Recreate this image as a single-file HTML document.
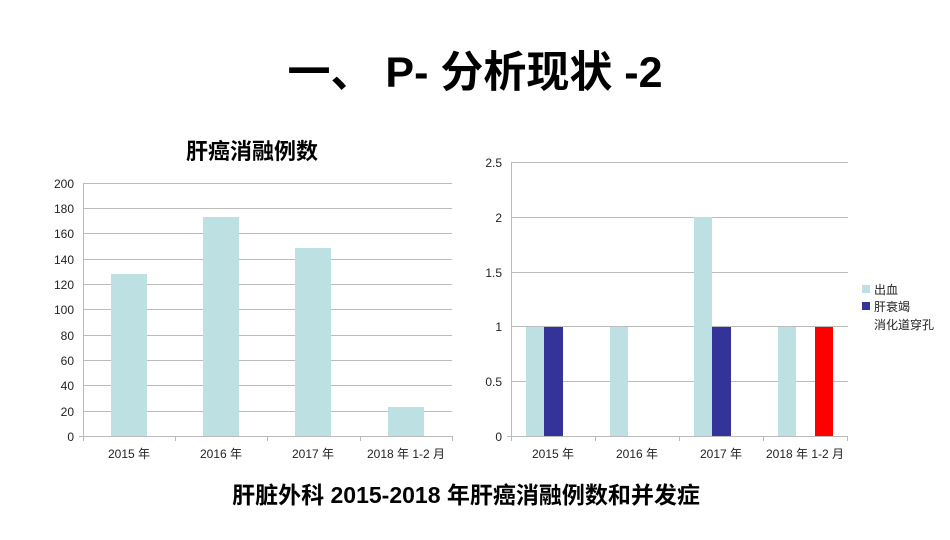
<!DOCTYPE html>
<html><head><meta charset="utf-8"><style>
body{margin:0;width:950px;height:535px;background:#fff;overflow:hidden;font-family:"Liberation Sans","Noto Sans CJK SC",sans-serif}
</style></head><body>
<svg width="950" height="535" xmlns="http://www.w3.org/2000/svg" font-family="Liberation Sans, Noto Sans CJK SC, sans-serif">
<text x="475" y="87" text-anchor="middle" font-size="43" font-weight="bold" fill="#000">一、 P- 分析现状 -2</text>
<text x="252" y="159" text-anchor="middle" font-size="22" font-weight="bold">肝癌消融例数</text>
<g stroke="#bbb" stroke-width="1">
<line x1="83" y1="183.5" x2="452" y2="183.5"/><line x1="83" y1="208.5" x2="452" y2="208.5"/><line x1="83" y1="233.5" x2="452" y2="233.5"/><line x1="83" y1="259.5" x2="452" y2="259.5"/><line x1="83" y1="284.5" x2="452" y2="284.5"/><line x1="83" y1="309.5" x2="452" y2="309.5"/><line x1="83" y1="335.5" x2="452" y2="335.5"/><line x1="83" y1="360.5" x2="452" y2="360.5"/><line x1="83" y1="385.5" x2="452" y2="385.5"/><line x1="83" y1="411.5" x2="452" y2="411.5"/>
<line x1="83.5" y1="183" x2="83.5" y2="441"/><line x1="79" y1="436.5" x2="452" y2="436.5"/>
<line x1="175.5" y1="436" x2="175.5" y2="441"/><line x1="267.5" y1="436" x2="267.5" y2="441"/><line x1="360.5" y1="436" x2="360.5" y2="441"/><line x1="452.5" y1="436" x2="452.5" y2="441"/>
</g>
<g fill="#bde0e2">
<rect x="111" y="274" width="36" height="162"/><rect x="203" y="217" width="36" height="219"/><rect x="295" y="248" width="36" height="188"/><rect x="388" y="407" width="36" height="29"/>
</g>
<g font-size="12" text-anchor="end" fill="#222">
<text x="74" y="188">200</text><text x="74" y="213">180</text><text x="74" y="238">160</text><text x="74" y="264">140</text><text x="74" y="289">120</text><text x="74" y="314">100</text><text x="74" y="340">80</text><text x="74" y="365">60</text><text x="74" y="390">40</text><text x="74" y="416">20</text><text x="74" y="441">0</text>
</g>
<g font-size="12" text-anchor="middle" fill="#222">
<text x="129" y="458">2015 年</text><text x="221" y="458">2016 年</text><text x="313" y="458">2017 年</text><text x="406" y="458">2018 年 1-2 月</text>
</g>
<g stroke="#bbb" stroke-width="1">
<line x1="511" y1="162.5" x2="848" y2="162.5"/><line x1="511" y1="217.5" x2="848" y2="217.5"/><line x1="511" y1="272.5" x2="848" y2="272.5"/><line x1="511" y1="326.5" x2="848" y2="326.5"/><line x1="511" y1="381.5" x2="848" y2="381.5"/>
<line x1="511.5" y1="162" x2="511.5" y2="441"/><line x1="507" y1="436.5" x2="848" y2="436.5"/>
<line x1="595.5" y1="436" x2="595.5" y2="441"/><line x1="679.5" y1="436" x2="679.5" y2="441"/><line x1="763.5" y1="436" x2="763.5" y2="441"/><line x1="847.5" y1="436" x2="847.5" y2="441"/>
</g>
<rect x="526" y="327" width="18" height="109" fill="#bde0e2"/><rect x="544" y="327" width="19" height="109" fill="#333399"/>
<rect x="610" y="327" width="18" height="109" fill="#bde0e2"/>
<rect x="694" y="217" width="18" height="219" fill="#bde0e2"/><rect x="712" y="327" width="19" height="109" fill="#333399"/>
<rect x="778" y="327" width="18" height="109" fill="#bde0e2"/><rect x="815" y="327" width="18" height="109" fill="#ff0000"/>
<g font-size="12" text-anchor="end" fill="#222">
<text x="502" y="167">2.5</text><text x="502" y="222">2</text><text x="502" y="277">1.5</text><text x="502" y="331">1</text><text x="502" y="386">0.5</text><text x="502" y="441">0</text>
</g>
<g font-size="12" text-anchor="middle" fill="#222">
<text x="553" y="458">2015 年</text><text x="637" y="458">2016 年</text><text x="721" y="458">2017 年</text><text x="805" y="458">2018 年 1-2 月</text>
</g>
<rect x="862" y="285" width="8" height="8" fill="#bde0e2"/><rect x="862" y="302" width="8" height="8" fill="#333399"/>
<g font-size="12" fill="#222"><text x="874" y="294">出血</text><text x="874" y="311">肝衰竭</text><text x="874" y="329">消化道穿孔</text></g>
<text x="466" y="503" text-anchor="middle" font-size="23" font-weight="bold">肝脏外科 2015-2018 年肝癌消融例数和并发症</text>
</svg>
</body></html>
